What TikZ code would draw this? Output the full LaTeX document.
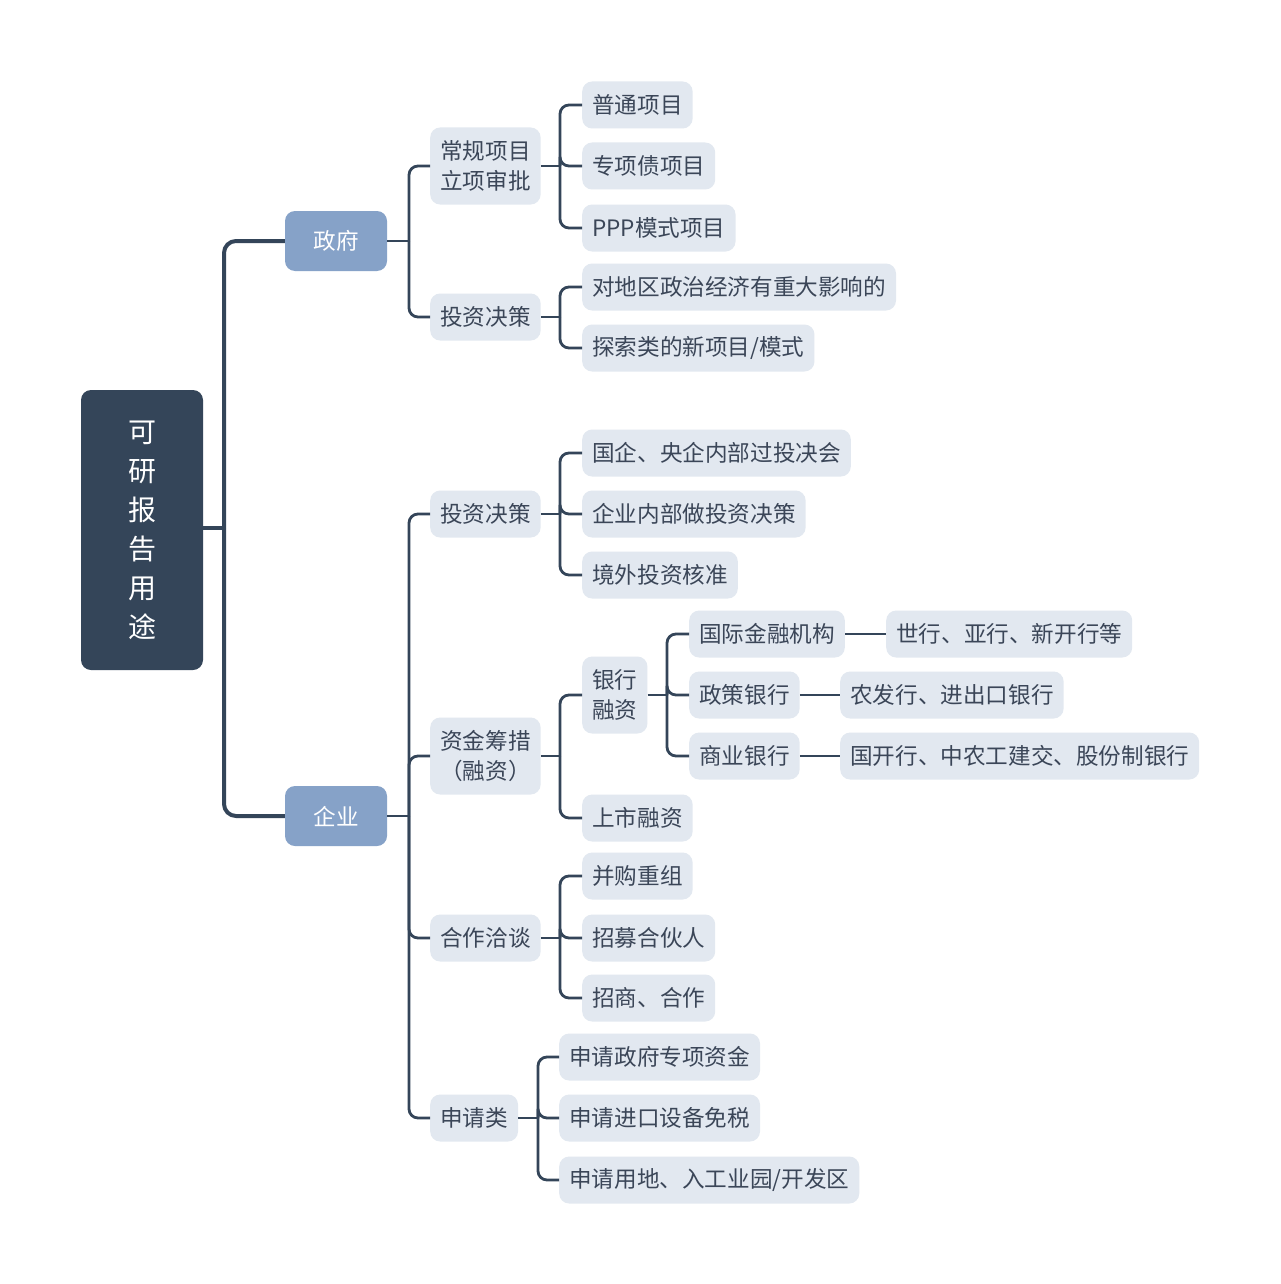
\documentclass[tikz,border=0pt]{standalone}
\usepackage{fontspec}
\setmainfont{Noto Sans CJK SC}
\usetikzlibrary{calc}
\definecolor{dark}{HTML}{344559}
\definecolor{mid}{HTML}{86A2C8}
\definecolor{leaf}{HTML}{E2E8F0}
\definecolor{ltxt}{HTML}{3B4658}
\begin{document}
\begin{tikzpicture}[x=1pt,y=1pt,
 leafbox/.style={fill=leaf, rounded corners=10pt, text=ltxt, font=\fontsize{22.6}{30}\selectfont, inner xsep=10pt, inner ysep=0pt, minimum height=47pt, anchor=west, align=left},
 twoline/.style={leafbox, minimum height=77pt, align=center},
 midbox/.style={fill=mid, rounded corners=10pt, text=white, font=\fontsize{22.6}{30}\selectfont, minimum width=102pt, minimum height=60pt, inner sep=0pt},
 rootbox/.style={fill=dark, rounded corners=10pt, text=white, minimum width=122pt, minimum height=280pt, align=center, inner sep=0pt, font=\fontsize{28}{39}\selectfont},
 conn/.style={draw=dark, line width=2.8pt, rounded corners=9pt},
 trunk/.style={conn, line width=4pt, rounded corners=12pt}]
\useasboundingbox[fill=white] (0,0) rectangle (1280,-1284);

% root and level 1
\node[rootbox] (root) at (142,-530) {可\\研\\报\\告\\用\\途};
\node[midbox] (gov) at (336,-241) {政府};
\node[midbox] (ent) at (336,-816) {企业};
\coordinate (j0) at (224,-528);
\draw[trunk] (root.east |- j0) -- (j0);
\draw[trunk] (j0) |- (gov.west);
\draw[trunk] (j0) |- (ent.west);

% government
\node[twoline] (g1) at (430,-166) {常规项目\\立项审批};
\node[leafbox] (g2) at (430,-317) {投资决策};
\coordinate (jg) at (409,-241);
\draw[conn] (gov.east) -- (jg);
\draw[conn] (jg) |- (g1.west);
\draw[conn] (jg) |- (g2.west);

\node[leafbox] (g11) at (582,-105) {普通项目};
\node[leafbox] (g12) at (582,-166) {专项债项目};
\node[leafbox] (g13) at (582,-228) {PPP模式项目};
\coordinate (jg1) at (560,-166);
\draw[conn] (g1.east) -- (jg1);
\draw[conn] (jg1) |- (g11.west);
\draw[conn] (jg1) |- (g12.west);
\draw[conn] (jg1) |- (g13.west);

\node[leafbox] (g21) at (582,-287) {对地区政治经济有重大影响的};
\node[leafbox] (g22) at (582,-348) {探索类的新项目/模式};
\coordinate (jg2) at (560,-317);
\draw[conn] (g2.east) -- (jg2);
\draw[conn] (jg2) |- (g21.west);
\draw[conn] (jg2) |- (g22.west);

% enterprise
\node[leafbox] (e1) at (430,-514) {投资决策};
\node[twoline] (e2) at (430,-756) {资金筹措\\（融资）};
\node[leafbox] (e3) at (430,-938) {合作洽谈};
\node[leafbox] (e4) at (430,-1118) {申请类};
\coordinate (je) at (409,-816);
\draw[conn] (ent.east) -- (je);
\draw[conn] (je) |- (e1.west);
\draw[conn] (je) |- (e2.west);
\draw[conn] (je) |- (e3.west);
\draw[conn] (je) |- (e4.west);

\node[leafbox] (e11) at (582,-453) {国企、央企内部过投决会};
\node[leafbox] (e12) at (582,-514) {企业内部做投资决策};
\node[leafbox] (e13) at (582,-575) {境外投资核准};
\coordinate (je1) at (560,-514);
\draw[conn] (e1.east) -- (je1);
\draw[conn] (je1) |- (e11.west);
\draw[conn] (je1) |- (e12.west);
\draw[conn] (je1) |- (e13.west);

\node[twoline] (e21) at (582,-695) {银行\\融资};
\node[leafbox] (e22) at (582,-818) {上市融资};
\coordinate (je2) at (560,-756);
\draw[conn] (e2.east) -- (je2);
\draw[conn] (je2) |- (e21.west);
\draw[conn] (je2) |- (e22.west);

\node[leafbox] (b1) at (689,-634) {国际金融机构};
\node[leafbox] (b2) at (689,-695) {政策银行};
\node[leafbox] (b3) at (689,-756) {商业银行};
\coordinate (jb) at (667,-695);
\draw[conn] (e21.east) -- (jb);
\draw[conn] (jb) |- (b1.west);
\draw[conn] (jb) |- (b2.west);
\draw[conn] (jb) |- (b3.west);

\node[leafbox] (b11) at (886,-634) {世行、亚行、新开行等};
\node[leafbox] (b21) at (840,-695) {农发行、进出口银行};
\node[leafbox] (b31) at (840,-756) {国开行、中农工建交、股份制银行};
\draw[conn] (b1.east) -- (b11.west);
\draw[conn] (b2.east) -- (b21.west);
\draw[conn] (b3.east) -- (b31.west);

\node[leafbox] (e31) at (582,-876) {并购重组};
\node[leafbox] (e32) at (582,-938) {招募合伙人};
\node[leafbox] (e33) at (582,-998) {招商、合作};
\coordinate (je3) at (560,-938);
\draw[conn] (e3.east) -- (je3);
\draw[conn] (je3) |- (e31.west);
\draw[conn] (je3) |- (e32.west);
\draw[conn] (je3) |- (e33.west);

\node[leafbox] (e41) at (559,-1057) {申请政府专项资金};
\node[leafbox] (e42) at (559,-1118) {申请进口设备免税};
\node[leafbox] (e43) at (559,-1180) {申请用地、入工业园/开发区};
\coordinate (je4) at (538,-1118);
\draw[conn] (e4.east) -- (je4);
\draw[conn] (je4) |- (e41.west);
\draw[conn] (je4) |- (e42.west);
\draw[conn] (je4) |- (e43.west);
\end{tikzpicture}
\end{document}
